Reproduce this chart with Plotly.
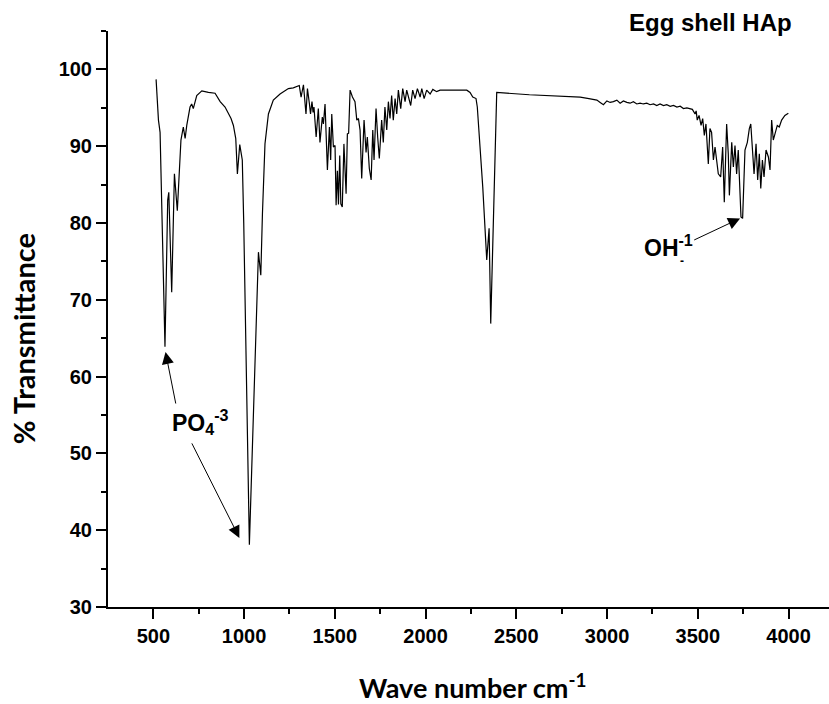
import plotly.graph_objects as go

# ---- data ----
wavenumber = [
    515, 528, 537, 546, 564, 579, 585, 601, 616, 632, 652, 665, 675, 684, 702, 711, 720, 739,
    767, 803, 840, 868, 895, 928, 941, 954, 963, 976, 990, 998, 1029, 1079, 1092, 1101, 1115,
    1134, 1161, 1198, 1244, 1271, 1290, 1304, 1314, 1327, 1341, 1349, 1360, 1366, 1374, 1380,
    1385, 1397, 1409, 1418, 1431, 1437, 1446, 1459, 1470, 1477, 1483, 1492, 1501, 1507, 1514,
    1520, 1527, 1533, 1541, 1550, 1562, 1569, 1576, 1584, 1597, 1611, 1621, 1630, 1639, 1648,
    1661, 1672, 1679, 1690, 1700, 1709, 1716, 1727, 1736, 1745, 1758, 1767, 1776, 1786, 1795,
    1804, 1813, 1822, 1832, 1841, 1850, 1863, 1874, 1887, 1896, 1909, 1918, 1929, 1942, 1955,
    1970, 1979, 1992, 2006, 2025, 2040, 2061, 2080, 2117, 2227, 2245, 2260, 2278, 2285, 2300,
    2315, 2337, 2350, 2359, 2392, 2572, 2852, 2900, 2944, 2962, 2980, 2999, 3017, 3035, 3054,
    3072, 3090, 3109, 3127, 3145, 3164, 3182, 3200, 3219, 3237, 3256, 3274, 3292, 3311, 3329,
    3348, 3366, 3385, 3403, 3421, 3440, 3458, 3470, 3485, 3491, 3497, 3507, 3518, 3527, 3536,
    3545, 3558, 3567, 3576, 3586, 3595, 3604, 3613, 3626, 3637, 3646, 3659, 3668, 3674, 3687,
    3696, 3705, 3714, 3723, 3733, 3738, 3747, 3751, 3760, 3773, 3784, 3792, 3800, 3810, 3821,
    3830, 3839, 3847, 3856, 3865, 3876, 3889, 3898, 3907, 3916, 3929, 3938, 3949, 3962, 3980,
    3999,
]
transmittance = [
    98.7, 93.4, 91.8, 83.0, 63.9, 83.0, 84.0, 71.0, 86.4, 81.6, 90.8, 92.5, 91.0, 92.7, 95.1, 95.5, 94.9, 96.6,
    97.2, 97.0, 96.9, 95.8, 95.1, 93.6, 92.7, 91.0, 86.4, 90.2, 88.2, 80.0, 38.1, 76.2, 73.2, 81.2, 90.3,
    94.2, 96.0, 96.8, 97.5, 97.6, 97.8, 97.9, 96.4, 98.0, 94.2, 97.5, 95.5, 94.2, 95.8, 94.4,
    95.1, 91.2, 94.9, 90.5, 93.8, 92.9, 95.5, 86.9, 92.5, 88.2, 94.2, 89.9, 90.1, 82.3, 86.8,
    82.4, 88.8, 82.5, 82.1, 90.3, 83.8, 91.6, 91.7, 97.3, 96.4, 95.8, 93.4, 93.6, 92.1, 85.8,
    93.4, 89.2, 91.2, 87.1, 85.6, 92.1, 88.2, 94.9, 91.2, 88.4, 93.4, 90.5, 95.1, 92.1, 95.8,
    93.6, 96.6, 93.4, 96.2, 94.2, 97.3, 94.9, 97.5, 95.8, 97.3, 96.0, 95.3, 97.3, 96.2, 97.5,
    96.4, 97.5, 96.2, 97.3, 96.8, 97.4, 97.1, 97.3, 97.3, 97.3, 97.0, 96.4, 96.2, 95.1, 89.9,
    84.7, 75.2, 79.3, 66.9, 97.0, 96.7, 96.4, 96.2, 96.0, 95.7, 95.4, 95.9, 95.7, 95.8, 96.0,
    95.6, 95.9, 95.7, 95.6, 95.8, 95.5, 95.6, 95.5, 95.6, 95.4, 95.5, 95.3, 95.5, 95.3, 95.4,
    95.2, 95.3, 95.1, 95.2, 94.9, 95.0, 94.9, 94.8, 94.2, 94.6, 93.4, 94.0, 92.7, 93.6, 91.4,
    92.9, 87.7, 92.3, 91.8, 88.2, 89.9, 88.4, 86.4, 86.0, 89.9, 82.7, 92.9, 89.0, 83.6, 90.5,
    87.3, 90.1, 86.4, 89.5, 83.6, 80.8, 80.6, 83.6, 89.5, 90.5, 92.3, 92.9, 89.9, 86.4, 90.3,
    85.6, 89.0, 84.5, 88.2, 86.0, 89.5, 88.6, 86.9, 93.4, 90.8, 91.8, 92.7, 92.5, 93.4, 94.0,
    94.3,
]

x_ticks = [500, 1000, 1500, 2000, 2500, 3000, 3500, 4000]
y_ticks = [30, 40, 50, 60, 70, 80, 90, 100]

title_text = "Egg shell HAp"
x_title = "Wave number cm<sup>-1</sup>"
y_title = "% Transmittance"

tick_font = dict(family="Liberation Sans", size=20, color="black", weight="bold")
lbl_font = dict(family="Liberation Sans", size=23, color="black")

fig = go.Figure()
fig.add_trace(go.Scatter(
    x=wavenumber, y=transmittance, mode="lines",
    line=dict(color="black", width=1.2), showlegend=False, hoverinfo="skip",
))

axis_common = dict(
    showline=True, linecolor="black", linewidth=2, mirror=False,
    ticks="outside", tickcolor="black", tickwidth=2, ticklen=10,
    showgrid=False, zeroline=False, tickfont=tick_font,
)

fig.update_xaxes(
    range=[250, 4223], tickvals=x_ticks, ticktext=[str(v) for v in x_ticks],
    minor=dict(ticks="outside", ticklen=5, tickwidth=2, tickcolor="black",
               tickvals=[750, 1250, 1750, 2250, 2750, 3250, 3750]),
    **axis_common,
)
fig.update_yaxes(
    range=[30, 105], tickvals=y_ticks, ticktext=[str(v) for v in y_ticks],
    minor=dict(ticks="outside", ticklen=5, tickwidth=2, tickcolor="black",
               tickvals=[35, 45, 55, 65, 75, 85, 95, 105]),
    **axis_common,
)

bold = lambda s: f"<b>{s}</b>"
arrow_style = dict(xref="x", yref="y", axref="x", ayref="y", showarrow=True,
                   arrowhead=2, arrowsize=2.4, arrowwidth=1, arrowcolor="black", text="")

annotations = [
    # arrows
    dict(x=567, y=63.2, ax=625, ay=56.3, **arrow_style),
    dict(x=974, y=39.0, ax=708, ay=51.5, **arrow_style),
    dict(x=3733, y=80.6, ax=3472, ay=77.7, **arrow_style),
    # labels
    dict(x=592, y=54.1, xref="x", yref="y", xanchor="left", yanchor="middle",
         text=bold("PO<sub>4</sub><sup>-3</sup>"), showarrow=False, font=lbl_font),
    dict(x=3193, y=77.0, xref="x", yref="y", xanchor="left", yanchor="middle",
         text=bold("OH<sup>-1</sup>"), showarrow=False, font=lbl_font),
    dict(x=3413, y=75.0, xref="x", yref="y", xanchor="center", yanchor="middle",
         text=bold("-"), showarrow=False, font=dict(family="Liberation Sans", size=12, color="black")),
    # title
    dict(x=0.72, y=1.014, xref="paper", yref="paper", xanchor="left", yanchor="middle",
         text=bold(title_text), showarrow=False,
         font=dict(family="Liberation Sans", size=24, color="black")),
    # axis titles
    dict(x=0.505, y=-0.137, xref="paper", yref="paper", xanchor="center", yanchor="middle",
         text=bold(x_title), showarrow=False, font=dict(family="Lato", size=27, color="black")),
    dict(x=-0.117, y=0.466, xref="paper", yref="paper", xanchor="center", yanchor="middle",
         text=bold(y_title), showarrow=False, font=dict(family="Lato", size=29, color="black"),
         textangle=-90),
]

fig.update_layout(
    width=829, height=704,
    margin=dict(l=108, r=0, t=31, b=97),
    plot_bgcolor="white", paper_bgcolor="white",
    annotations=annotations,
    showlegend=False,
)

fig.write_html("out.html")
